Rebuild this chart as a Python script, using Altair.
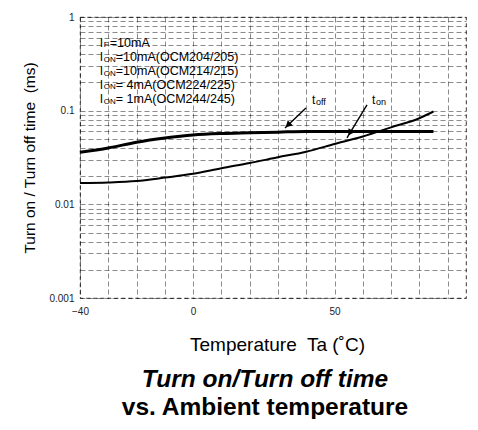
import altair as alt
import pandas as pd
import numpy as np

# ---- data ----
temps = [-40, -30, -20, -10, 0, 10, 20, 30, 40, 50, 60, 70, 80, 85]
toff = [0.036, 0.040, 0.046, 0.051, 0.055, 0.057, 0.058, 0.059, 0.060, 0.060, 0.060, 0.060, 0.060, 0.060]
ton = [0.0169, 0.0171, 0.0177, 0.0193, 0.0212, 0.0243, 0.0276, 0.0318, 0.0365, 0.0441, 0.0530, 0.0663, 0.0830, 0.098]

x_grid = list(range(-40, 100, 10))
x_labels = [-40, 0, 50, 100]
y_grid = [round(k * 10.0 ** e, 6) for e in (-3, -2, -1) for k in range(1, 10)] + [1.0]

# condition notes (top-left)
note_main = ["I", "I", "I", "I", "I"]
note_sub = ["F", "ON", "ON", "ON", "ON"]
note_rest = ["=10mA", "=10mA(OCM204/205)", "=10mA(OCM214/215)", "= 4mA(OCM224/225)", "= 1mA(OCM244/245)"]
note_t = [-33, -33, -33, -33, -33]
note_v = [0.528, 0.374, 0.265, 0.188, 0.133]

# curve labels with arrows
lab_main = ["t", "t"]
lab_sub = ["off", "on"]
lab_t = [42, 63.3]
lab_v = [0.13, 0.13]
arr_t0 = [39.9, 61.5]
arr_v0 = [0.107, 0.115]
arr_t1 = [32.5, 54.4]
arr_v1 = [0.0654, 0.0513]
arr_angle = [226, 211]

df = pd.DataFrame({"T": temps, "toff": toff, "ton": ton})
notes = pd.DataFrame({"T": note_t, "v": note_v, "m": note_main, "s": note_sub, "r": note_rest})
labs = pd.DataFrame({"T": lab_t, "v": lab_v, "m": lab_main, "s": lab_sub})
arrows = pd.DataFrame({"T0": arr_t0, "v0": arr_v0, "T1": arr_t1, "v1": arr_v1, "ang": arr_angle})
f = 0.82
arrows["Th"] = arrows["T0"] + f * (arrows["T1"] - arrows["T0"])
arrows["vh"] = 10 ** (np.log10(arrows["v0"]) + f * (np.log10(arrows["v1"]) - np.log10(arrows["v0"])))

FONT = "Liberation Sans"
NB = "\u00a0"
label_list = "[" + ",".join(str(v) for v in x_labels) + "]"

xscale = alt.Scale(domain=[-40, 96.5], nice=False, zero=False)
yscale = alt.Scale(type="log", domain=[0.001, 1], nice=False)

xaxis = alt.Axis(
    values=x_grid,
    labelExpr="indexof(" + label_list + ", datum.value) >= 0 ? datum.label : ''",
    title="Temperature" + NB + " Ta (\u02daC)",
    labelPadding=8, titlePadding=19, titleFontSize=19, titleX=197,
    labelFlush=False, labelOverlap=False,
)
yaxis = alt.Axis(
    values=y_grid,
    labelExpr="datum.value == 1 ? '1' : datum.value == 0.1 ? '0.1' : datum.value == 0.01 ? '0.01' : datum.value == 0.001 ? '0.001' : ''",
    title="Turn on / Turn off time" + NB + " (ms)",
    labelPadding=6, titlePadding=11, titleFontSize=15.5, labelFlush=False, labelOverlap=False,
)

base = alt.Chart(df)
line_off = base.mark_line(color="black", strokeWidth=3, interpolate="monotone").encode(
    x=alt.X("T:Q", scale=xscale, axis=xaxis),
    y=alt.Y("toff:Q", scale=yscale, axis=yaxis),
)
line_on = base.mark_line(color="black", strokeWidth=2, interpolate="monotone").encode(
    x=alt.X("T:Q", scale=xscale, axis=xaxis),
    y=alt.Y("ton:Q", scale=yscale, axis=yaxis),
)

arr = alt.Chart(arrows).mark_rule(color="black", strokeWidth=1.4).encode(
    x=alt.X("T0:Q", scale=xscale, axis=xaxis), y=alt.Y("v0:Q", scale=yscale, axis=yaxis),
    x2="T1:Q", y2="v1:Q",
)
heads = alt.Chart(arrows).mark_point(shape="triangle", filled=True, color="black", size=55, opacity=1).encode(
    x=alt.X("Th:Q", scale=xscale, axis=xaxis), y=alt.Y("vh:Q", scale=yscale, axis=yaxis),
    angle=alt.Angle("ang:Q", scale=None),
)

txt = dict(font=FONT, color="black", align="left", baseline="middle")
def pos():
    return dict(x=alt.X("T:Q", scale=xscale, axis=xaxis), y=alt.Y("v:Q", scale=yscale, axis=yaxis))

n_main = alt.Chart(notes).mark_text(fontSize=12, **txt).encode(text="m:N", **pos())
n_sub = alt.Chart(notes).mark_text(fontSize=8, dx=4, dy=2.5, **txt).encode(text="s:N", **pos())
n_rest_f = alt.Chart(notes).transform_filter("datum.s == 'F'").mark_text(fontSize=12.5, dx=10, **txt).encode(text="r:N", **pos())
n_rest_on = alt.Chart(notes).transform_filter("datum.s == 'ON'").mark_text(fontSize=12.5, dx=16, **txt).encode(text="r:N", **pos())

l_main = alt.Chart(labs).mark_text(fontSize=12, **txt).encode(text="m:N", **pos())
l_sub = alt.Chart(labs).mark_text(fontSize=9, dx=4, dy=2, **txt).encode(text="s:N", **pos())

chart = alt.layer(
    line_off, line_on, arr, heads, n_main, n_sub, n_rest_f, n_rest_on, l_main, l_sub
).properties(
    width=386, height=281,
    background="white",
    autosize=alt.AutoSizeParams(type="none"),
    padding={"left": 72, "top": 9, "right": 4, "bottom": 121},
    title=alt.TitleParams(
        text="Turn on/Turn off time", subtitle="vs. Ambient temperature",
        orient="bottom", anchor="middle", offset=14, dx=-8,
        font=FONT, fontSize=24.5, fontWeight="bold", fontStyle="italic", color="black",
        subtitleFont=FONT, subtitleFontSize=24.5, subtitleFontWeight="bold",
        subtitleFontStyle="normal", subtitleColor="black", subtitlePadding=3.5,
    ),
).configure_axis(
    domain=False, ticks=False, labelOverlap=False,
    labelFont=FONT, labelFontSize=10, labelColor="#222",
    titleFont=FONT, titleFontWeight="normal", titleColor="black",
    gridColor="black", gridDash=[5, 3], gridWidth=0.7, gridOpacity=0.65,
).configure_view(
    stroke="black", strokeDash=[4, 3], strokeWidth=0.8,
)

chart.save("out.html", embed_options={"renderer": "svg", "actions": False})
